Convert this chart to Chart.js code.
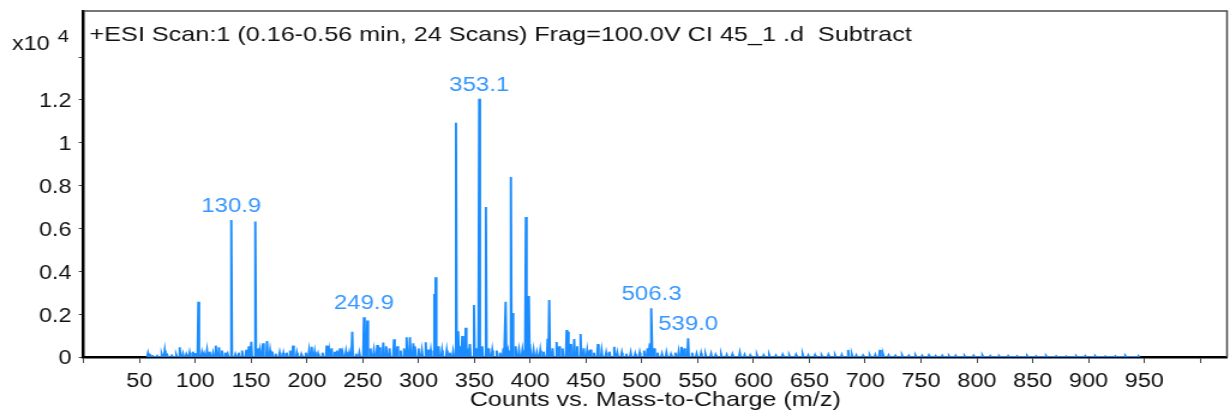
<!DOCTYPE html>
<html>
<head>
<meta charset="utf-8">
<script src="https://cdn.jsdelivr.net/npm/chart.js@4.4.0/dist/chart.umd.min.js"></script>
<style>
  html, body { margin: 0; padding: 0; background: #fff; }
  #spectrum { display: block; }
</style>
</head>
<body>
<!-- the source picture is stretched sideways, so the canvas is drawn narrow and widened -->
<canvas id="spectrum" width="1025" height="414" style="width: 1230px; height: 414px;"></canvas>
<script>
// main peaks: m/z and counts (x10^4)
const peakMz = [57.7, 72.7, 86.1, 98.0, 102.8, 110.6, 118.4, 121.3, 132.3, 145.7, 150.2, 153.8, 160.7, 164.3, 169.0, 175.6, 187.6, 204.3, 217.7, 222.2, 229.6, 240.6, 251.1, 254.1, 263.0, 268.4, 278.0, 289.3, 292.3, 295.3, 306.4, 314.1, 315.3, 325.2, 333.5, 335.5, 339.1, 342.2, 349.6, 354.3, 360.3, 378.0, 382.7, 384.1, 396.1, 398.8, 415.6, 417.0, 423.6, 432.6, 433.7, 439.4, 445.1, 460.6, 475.2, 507.2, 508.7, 535.5, 541.4, 587.7, 684.7, 713.1]
const peakCounts = [0.017, 0.03, 0.045, 0.025, 0.258, 0.03, 0.053, 0.045, 0.64, 0.033, 0.071, 0.632, 0.064, 0.075, 0.025, 0.02, 0.053, 0.048, 0.053, 0.04, 0.04, 0.118, 0.185, 0.17, 0.056, 0.067, 0.083, 0.092, 0.092, 0.064, 0.069, 0.294, 0.372, 0.03, 1.093, 0.12, 0.098, 0.137, 0.243, 1.205, 0.70, 0.258, 0.84, 0.205, 0.654, 0.285, 0.085, 0.266, 0.07, 0.126, 0.118, 0.084, 0.107, 0.06, 0.048, 0.064, 0.227, 0.048, 0.087, 0.02, 0.033, 0.033]

// small baseline peaks
const noiseMz = [60, 62, 66, 70, 75, 79, 83, 89, 92, 95, 100, 106, 108, 113, 116, 124, 127, 129, 136, 139, 142, 148, 156, 158, 167, 172, 179, 182, 185, 191, 195, 199, 202, 207, 210, 214, 220, 225, 227, 232, 235, 238, 244, 247, 257, 260, 265, 271, 274, 281, 284, 287, 297, 300, 303, 309, 311, 318, 321, 328, 331, 337, 344, 346, 352, 357, 363, 366, 370, 373, 376, 380, 387, 390, 393, 400, 403, 406, 409, 412, 420, 426, 429, 436, 442, 448, 451, 454, 457, 464, 468, 471, 478, 482, 486, 490, 494, 498, 502, 505, 511, 514, 518, 522, 526, 530, 533, 538, 545, 549, 553, 557, 562, 566, 571, 576, 581, 592, 597, 603, 609, 614, 620, 626, 632, 638, 644, 649, 655, 661, 667, 673, 679, 688, 692, 698, 704, 709, 716, 721, 727, 733, 739, 745, 751, 757, 763, 769, 775, 781, 789, 797, 805, 812, 820, 828, 836, 845, 853, 862, 871, 880, 889, 897, 906, 915, 924, 933, 945]
const noiseCounts = [0.006, 0.004, 0.005, 0.012, 0.008, 0.006, 0.01, 0.015, 0.012, 0.02, 0.018, 0.02, 0.015, 0.025, 0.018, 0.03, 0.02, 0.015, 0.012, 0.02, 0.03, 0.05, 0.04, 0.035, 0.03, 0.015, 0.018, 0.02, 0.03, 0.02, 0.012, 0.02, 0.03, 0.025, 0.015, 0.02, 0.03, 0.025, 0.03, 0.02, 0.025, 0.02, 0.015, 0.02, 0.04, 0.03, 0.045, 0.05, 0.04, 0.05, 0.03, 0.04, 0.05, 0.04, 0.03, 0.035, 0.03, 0.05, 0.03, 0.02, 0.025, 0.05, 0.04, 0.06, 0.04, 0.05, 0.04, 0.03, 0.03, 0.02, 0.04, 0.03, 0.05, 0.03, 0.03, 0.06, 0.03, 0.02, 0.03, 0.025, 0.04, 0.05, 0.04, 0.06, 0.05, 0.04, 0.03, 0.035, 0.02, 0.03, 0.02, 0.025, 0.02, 0.02, 0.015, 0.02, 0.015, 0.02, 0.03, 0.04, 0.04, 0.02, 0.015, 0.02, 0.012, 0.02, 0.025, 0.04, 0.02, 0.015, 0.018, 0.012, 0.015, 0.01, 0.012, 0.01, 0.012, 0.01, 0.008, 0.01, 0.008, 0.01, 0.007, 0.01, 0.008, 0.01, 0.012, 0.008, 0.009, 0.007, 0.01, 0.008, 0.01, 0.012, 0.008, 0.007, 0.008, 0.01, 0.012, 0.008, 0.006, 0.008, 0.006, 0.007, 0.006, 0.008, 0.005, 0.006, 0.005, 0.006, 0.005, 0.006, 0.007, 0.005, 0.004, 0.005, 0.004, 0.005, 0.004, 0.005, 0.004, 0.003, 0.004, 0.005, 0.004, 0.003, 0.004, 0.005, 0.003]

// labelled peaks
const labelText = ['130.9', '249.9', '353.1', '506.3', '539.0']
const labelMz = [132.3, 251.1, 354.3, 508.7, 541.4]
const labelCounts = [0.64, 0.185, 1.205, 0.227, 0.087]

const xTickValues = [0, 50, 100, 150, 200, 250, 300, 350, 400, 450, 500, 550, 600, 650, 700, 750, 800, 850, 900, 950, 1000]
const xTickLabels = ['', '50', '100', '150', '200', '250', '300', '350', '400', '450', '500', '550', '600', '650', '700', '750', '800', '850', '900', '950', '']
const yTickValues = [0, 0.2, 0.4, 0.6, 0.8, 1, 1.2, 1.4]
const yTickLabels = ['0', '0.2', '0.4', '0.6', '0.8', '1', '1.2', '']

const scanTitle = '+ESI Scan:1 (0.16-0.56 min, 24 Scans) Frag=100.0V CI 45_1 .d  Subtract'
const axisTitle = 'Counts vs. Mass-to-Charge (m/z)'

const blue = '#1a8cff'
const labelBlue = '#3797ff'
const font = '"Liberation Sans", Arial, sans-serif'

// every peak becomes a thin triangle sitting on the baseline
const allPeaks = peakMz.map((m, i) => [m, peakCounts[i]])
  .concat(noiseMz.map((m, i) => [m, noiseCounts[i]]))
  .sort((a, b) => a[0] - b[0])
const points = []
allPeaks.forEach(([m, c]) => {
  points.push({ x: m - 0.7, y: 0 })
  points.push({ x: m, y: c })
  points.push({ x: m + 0.7, y: 0 })
})

const textPlugin = {
  id: 'spectrumText',
  afterDraw (chart) {
    const { ctx, chartArea } = chart
    const x = chart.scales.x
    const y = chart.scales.y
    ctx.save()
    // top and right side of the frame
    ctx.strokeStyle = '#4a4a4a'
    ctx.lineWidth = 1.5
    ctx.beginPath()
    ctx.moveTo(chartArea.left, chartArea.top)
    ctx.lineTo(chartArea.right, chartArea.top)
    ctx.lineTo(chartArea.right, chartArea.bottom)
    ctx.stroke()

    ctx.fillStyle = '#111'
    ctx.textAlign = 'left'
    ctx.textBaseline = 'alphabetic'
    ctx.font = '21px ' + font
    ctx.fillText(scanTitle, chartArea.left + 5, 41)

    ctx.font = '19.5px ' + font
    ctx.fillText('x10', 10, 50)
    ctx.font = '17px ' + font
    ctx.fillText('4', 48, 42)

    // peak labels
    ctx.fillStyle = labelBlue
    ctx.textAlign = 'center'
    ctx.font = '20px ' + font
    labelText.forEach((t, i) => {
      ctx.fillText(t, x.getPixelForValue(labelMz[i]), y.getPixelForValue(labelCounts[i]) - 8)
    })
    ctx.restore()
  }
}

const ctx = document.getElementById('spectrum').getContext('2d')
const chart = new Chart(ctx, {
  type: 'line',
  data: {
    datasets: [
      {
        data: points,
        borderColor: blue,
        backgroundColor: blue,
        borderWidth: 1.9,
        pointRadius: 0,
        tension: 0,
        fill: 'origin'
      }
    ]
  },
  options: {
    responsive: false,
    animation: false,
    devicePixelRatio: 1,
    layout: { padding: { top: 11, right: 2.5, left: 0, bottom: 0 } },
    plugins: {
      legend: { display: false },
      tooltip: { enabled: false }
    },
    scales: {
      x: {
        type: 'linear',
        min: 0,
        max: 1024,
        afterFit: (scale) => {
          scale.height = 57
          scale.paddingLeft = 0
          scale.paddingRight = 0
        },
        afterBuildTicks: (scale) => { scale.ticks = xTickValues.map((v) => ({ value: v })) },
        border: { display: true, color: '#000', width: 2.5 },
        grid: { drawOnChartArea: false, drawTicks: true, tickLength: 6, tickColor: '#444', tickWidth: 1 },
        ticks: {
          autoSkip: false,
          maxRotation: 0,
          padding: 7,
          color: '#111',
          font: { family: font, size: 19.5 },
          callback: (v, i) => xTickLabels[i]
        },
        title: {
          display: true,
          text: axisTitle,
          color: '#111',
          font: { family: font, size: 21 },
          padding: { top: 0, bottom: 1 }
        }
      },
      y: {
        min: 0,
        max: 1.615,
        afterFit: (scale) => {
          scale.width = 69.6
          scale.paddingTop = 0
          scale.paddingBottom = 0
        },
        afterBuildTicks: (scale) => { scale.ticks = yTickValues.map((v) => ({ value: v })) },
        border: { display: true, color: '#000', width: 2.5 },
        grid: { drawOnChartArea: false, drawTicks: true, tickLength: 4, tickColor: '#444', tickWidth: 1 },
        ticks: {
          autoSkip: false,
          padding: 6,
          labelOffset: 2,
          color: '#111',
          font: { family: font, size: 19.5 },
          callback: (v, i) => yTickLabels[i]
        }
      }
    }
  },
  plugins: [textPlugin]
})
// keep the sideways stretch in case the library reset the size
chart.canvas.style.width = '1230px'
chart.canvas.style.height = '414px'
</script>
</body>
</html>
